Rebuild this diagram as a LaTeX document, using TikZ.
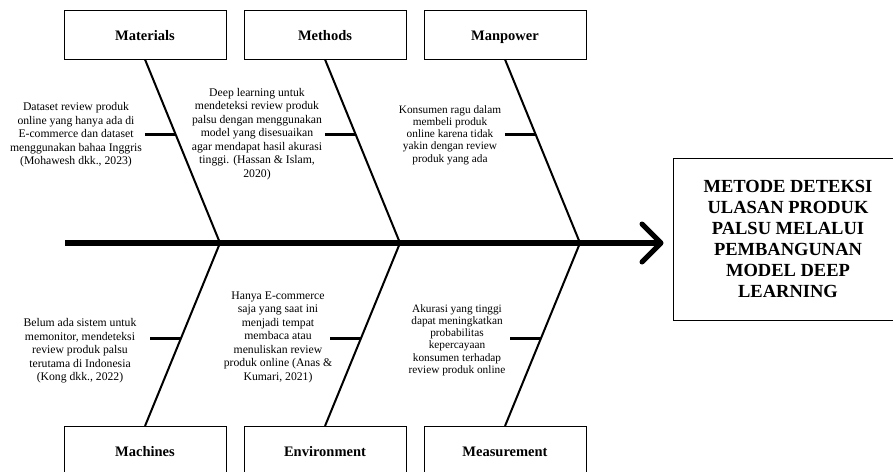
\documentclass[tikz,border=0pt]{standalone}
\usepackage{fontspec}
\setmainfont{Liberation Serif}
\usetikzlibrary{calc}

\begin{document}
\begin{tikzpicture}[x=1pt,y=-1pt]
        \useasboundingbox (0,0) rectangle (893,471);
        \clip (0,0) rectangle (893,471);
        \tikzstyle{cat}=[draw,rectangle,line width=0.9pt,minimum width=162pt,minimum height=49pt,text height=12pt,text depth=0.5pt,font=\fontsize{14.5}{17}\selectfont\bfseries]
        \tikzstyle{cause}=[align=center,inner sep=0pt,font=\fontsize{11.7}{13.5}\selectfont]
        \tikzstyle{causesmall}=[align=center,inner sep=0pt,font=\fontsize{11.3}{12.2}\selectfont]
        \tikzstyle{bone}=[line width=2pt]
        \tikzstyle{twig}=[line width=3pt]

        \foreach \name [count=\i] in {Materials,Methods,Manpower} {
            \node[cat] (top_\i) at (-35+180*\i, 34.5) {\name};
        }
        \foreach \name [count=\i] in {Machines,Environment,Measurement} {
            \node[cat] (bot_\i) at (-35+180*\i, 451) {\name};
        }

        \coordinate (tail) at (65,243);
        \coordinate (head) at (661,243);
        \draw[line width=6pt] (tail) -- ([xshift=-3pt]head);
        \draw[line width=5pt,line cap=round,line join=round] ($(head)+(-19,-19)$) -- (head) -- ($(head)+(-19,19)$);

        \foreach \i in {1,2,3} {
            \coordinate (j_\i) at (40+180*\i, 243);
            \draw[bone] (top_\i.south) -- (j_\i);
            \draw[bone] (j_\i) -- (bot_\i.north);
            \coordinate (bt_\i) at ($(top_\i.south)!0.41!(j_\i)$);
            \coordinate (st_\i) at ($(bt_\i)+(-31,0)$);
            \draw[twig] (st_\i) -- (bt_\i);
            \coordinate (bb_\i) at ($(j_\i)!0.52!(bot_\i.north)$);
            \coordinate (sb_\i) at ($(bb_\i)+(-31,0)$);
            \draw[twig] (sb_\i) -- (bb_\i);
        }

        \node[cause] (t_1) at (76,135) {Dataset review produk\\online yang hanya ada di\\E-commerce dan dataset\\menggunakan bahaa Inggris\\(Mohawesh dkk., 2023)};
        \node[cause] (t_2) at (257,134) {Deep learning untuk\\mendeteksi review produk\\palsu dengan menggunakan\\model yang disesuaikan\\agar mendapat hasil akurasi\\tinggi. (Hassan \& Islam,\\2020)};
        \node[causesmall] (t_3) at (450,135) {Konsumen ragu dalam\\membeli produk\\online karena tidak\\yakin dengan review\\produk yang ada};
        \node[cause] (t_4) at (80,351) {Belum ada sistem untuk\\memonitor, mendeteksi\\review produk palsu\\terutama di Indonesia\\(Kong dkk., 2022)};
        \node[cause] (t_5) at (278,337) {Hanya E-commerce\\saja yang saat ini\\menjadi tempat\\membaca atau\\menuliskan review\\produk online (Anas \&\\Kumari, 2021)};
        \node[causesmall] (t_6) at (457,340) {Akurasi yang tinggi\\dapat meningkatkan\\probabilitas\\kepercayaan\\konsumen terhadap\\review produk online};

        \node[draw,line width=0.9pt,minimum width=230pt,minimum height=162pt,align=center,font=\fontsize{18.5}{21}\selectfont\bfseries] (effect) at (788,239) {METODE DETEKSI\\ULASAN PRODUK\\PALSU MELALUI\\PEMBANGUNAN\\MODEL DEEP\\LEARNING};

\end{tikzpicture}
\end{document}
